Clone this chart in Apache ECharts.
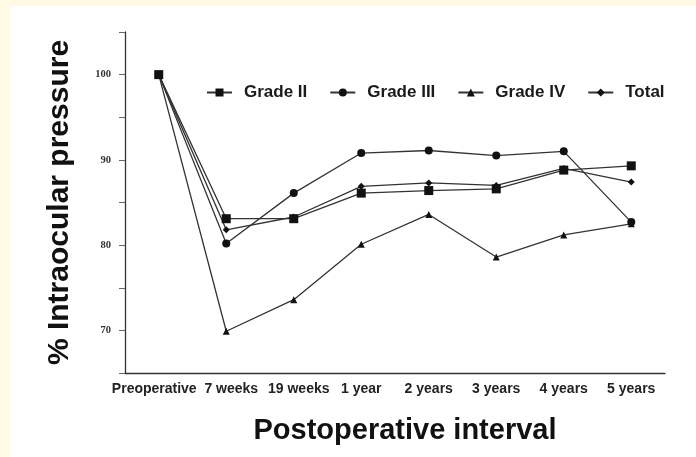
<!DOCTYPE html>
<html>
<head>
<meta charset="utf-8">
<script src="https://cdn.jsdelivr.net/npm/echarts@6/dist/echarts.min.js"></script>
<style>
html,body{margin:0;padding:0;background:#FFF9E6;width:696px;height:457px;overflow:hidden;}
#chart{position:absolute;left:10px;top:6px;width:686px;height:451px;background:#fff;}
</style>
</head>
<body>
<div id="chart"></div>
<script>
var categories = ['Preoperative','7 weeks','19 weeks','1 year','2 years','3 years','4 years','5 years'];
var gradeII  = [100, 83.1, 83.1, 86.1, 86.4, 86.6, 88.8, 89.3];
var gradeIII = [100, 80.2, 86.1, 90.8, 91.1, 90.5, 91.0, 82.7];
var gradeIV  = [100, 69.9, 73.6, 80.1, 83.6, 78.6, 81.2, 82.5];
var total    = [100, 81.8, 83.3, 86.9, 87.3, 87.0, 89.0, 87.4];
var yTickLabels = [70, 80, 90, 100];

var chart = echarts.init(document.getElementById('chart'));
var lineColor = '#333';
function mk(name, data, symbol, size) {
  return {
    name: name, type: 'line', data: data, symbol: symbol, symbolSize: size,
    lineStyle: {color: lineColor, width: 1.3},
    itemStyle: {color: '#111'},
    emphasis: {disabled: true}
  };
}
var labStyle = {fontSize: 14, fontWeight: 'bold', color: '#222', fontFamily: 'Liberation Sans, Arial, sans-serif'};
chart.setOption({
  animation: false,
  textStyle: {fontFamily: 'Liberation Sans, Arial, sans-serif'},
  legend: {
    top: 73, left: 191,
    itemWidth: 25, itemHeight: 10, itemGap: 22,
    textStyle: {fontSize: 17, fontWeight: 'bold', color: '#1a1a1a', padding: [0, 0, 0, 7],
      fontFamily: 'Liberation Sans, Arial, sans-serif'},
    data: ['Grade II','Grade III','Grade IV','Total']
  },
  grid: {left: 115, right: 31, top: 26, bottom: 84},
  xAxis: {
    type: 'category', data: categories, boundaryGap: true,
    name: 'Postoperative interval', nameLocation: 'middle', nameGap: 43,
    nameTextStyle: {fontSize: 29, fontWeight: 'bold', color: '#111', padding: [0, 0, 0, 20]},
    axisLine: {lineStyle: {color: lineColor, width: 1.3}},
    axisTick: {alignWithLabel: true, length: 5, lineStyle: {color: '#666'}},
    axisLabel: {
      interval: 0, margin: 9, fontSize: 14, fontWeight: 'bold', color: '#222',
      formatter: function (v, i) {
        if (i === 0) return '{l|' + v + '}';
        if (i === 1 || i === 2) return '{r|' + v + '}';
        return v;
      },
      rich: {
        l: Object.assign({padding: [0, 9, 0, 0]}, labStyle),
        r: Object.assign({padding: [0, 0, 0, 10]}, labStyle)
      }
    }
  },
  yAxis: {
    type: 'value', min: 65, max: 105, interval: 5,
    name: '% Intraocular pressure', nameLocation: 'middle', nameGap: 50,
    nameTextStyle: {fontSize: 30, fontWeight: 'bold', color: '#111'},
    splitLine: {show: false},
    axisLine: {show: true, lineStyle: {color: lineColor, width: 1.3}},
    axisTick: {show: true, length: 6, lineStyle: {color: '#666'}},
    axisLabel: {
      margin: 14, fontSize: 10.5, fontWeight: 'bold', color: '#333', fontFamily: 'Liberation Serif, Times New Roman, serif',
      formatter: function (v) { return yTickLabels.indexOf(v) >= 0 ? String(v) : ''; }
    }
  },
  series: [
    mk('Grade II', gradeII, 'rect', 9),
    mk('Grade III', gradeIII, 'circle', 8),
    mk('Grade IV', gradeIV, 'triangle', 7),
    mk('Total', total, 'diamond', 7)
  ]
});
</script>
</body>
</html>
